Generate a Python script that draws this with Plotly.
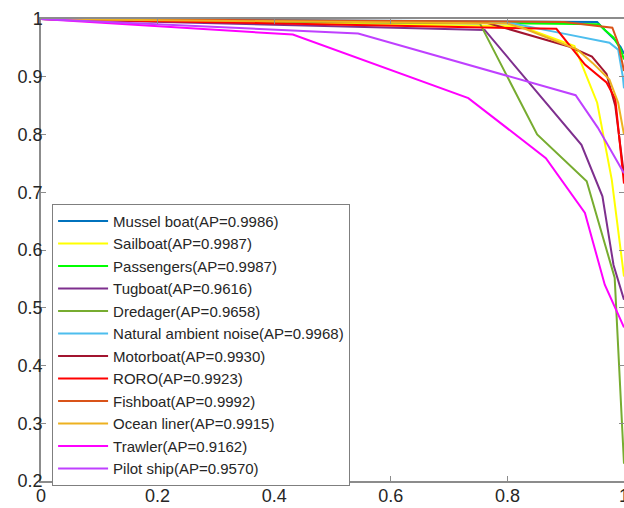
import plotly.graph_objects as go

names = ["Mussel boat(AP=0.9986)", "Sailboat(AP=0.9987)", "Passengers(AP=0.9987)",
         "Tugboat(AP=0.9616)", "Dredager(AP=0.9658)", "Natural ambient noise(AP=0.9968)",
         "Motorboat(AP=0.9930)", "RORO(AP=0.9923)", "Fishboat(AP=0.9992)",
         "Ocean liner(AP=0.9915)", "Trawler(AP=0.9162)", "Pilot ship(AP=0.9570)"]
colors = ["#0072BD", "#FFFF00", "#00FF00", "#7E2F8E", "#77AC30", "#4DBEEE",
          "#A2142F", "#FF0000", "#D95319", "#EDB120", "#FF00FF", "#BF40FF"]

mussel_r = [0, 0.954, 0.965, 0.985, 0.994, 1.0]
mussel_p = [1, 0.995, 0.983, 0.963, 0.952, 0.94]
sail_r = [0, 0.824, 0.915, 0.954, 0.979, 1.0]
sail_p = [1, 0.987, 0.953, 0.855, 0.722, 0.554]
pass_r = [0, 0.957, 0.968, 0.982, 0.994, 1.0]
pass_p = [1, 0.991, 0.980, 0.968, 0.948, 0.93]
tug_r = [0, 0.761, 0.927, 0.963, 0.982, 1.0]
tug_p = [1, 0.981, 0.782, 0.693, 0.574, 0.514]
dred_r = [0, 0.753, 0.851, 0.936, 0.984, 1.0]
dred_p = [1, 0.992, 0.800, 0.719, 0.552, 0.23]
nat_r = [0, 0.801, 0.890, 0.975, 0.990, 0.998, 1.0]
nat_p = [1, 0.994, 0.976, 0.959, 0.947, 0.900, 0.88]
motor_r = [0, 0.763, 0.907, 0.945, 0.970, 0.985, 1.0]
motor_p = [1, 0.994, 0.952, 0.935, 0.905, 0.85, 0.73]
roro_r = [0, 0.884, 0.933, 0.970, 0.985, 0.995, 1.0]
roro_p = [1, 0.983, 0.921, 0.890, 0.862, 0.760, 0.715]
fish_r = [0, 0.897, 0.980, 0.990, 1.0]
fish_p = [1, 0.995, 0.985, 0.958, 0.91]
ocean_r = [0, 0.80, 0.83, 0.92, 0.946, 0.975, 0.99, 1.0]
ocean_p = [1, 0.992, 0.983, 0.947, 0.924, 0.895, 0.855, 0.80]
trawl_r = [0, 0.432, 0.733, 0.866, 0.933, 0.967, 1.0]
trawl_p = [1, 0.973, 0.863, 0.759, 0.664, 0.540, 0.466]
pilot_r = [0, 0.544, 0.917, 0.955, 1.0]
pilot_p = [1, 0.975, 0.868, 0.812, 0.733]

recalls = [mussel_r, sail_r, pass_r, tug_r, dred_r, nat_r, motor_r, roro_r,
           fish_r, ocean_r, trawl_r, pilot_r]
precisions = [mussel_p, sail_p, pass_p, tug_p, dred_p, nat_p, motor_p, roro_p,
              fish_p, ocean_p, trawl_p, pilot_p]

x_ticks = [0, 0.2, 0.4, 0.6, 0.8, 1]
y_ticks = [0.2, 0.3, 0.4, 0.5, 0.6, 0.7, 0.8, 0.9, 1]

fig = go.Figure()
for n, c, r, p in zip(names, colors, recalls, precisions):
    fig.add_trace(go.Scatter(x=r, y=p, mode="lines", name=n,
                             line=dict(color=c, width=2)))

axis_common = dict(showline=True, linecolor="#8c8c8c", linewidth=1.5, mirror="ticks",
                   ticks="inside", ticklen=5, tickcolor="#8c8c8c", showgrid=False,
                   zeroline=False, automargin=False, ticklabeloverflow="allow",
                   tickfont=dict(family="Liberation Sans, Arial", size=18, color="#262626"))
fig.update_xaxes(range=[0, 1], tickvals=x_ticks, ticktext=[f"{v:g}" for v in x_ticks],
                 ticklabelstandoff=-2, **axis_common)
fig.update_yaxes(range=[0.2, 1], tickvals=y_ticks, ticktext=[f"{v:g}" for v in y_ticks],
                 ticklabelstandoff=-7, **axis_common)

fig.update_layout(
    width=624, height=508,
    margin=dict(l=41, r=0, t=19, b=27, autoexpand=False),
    paper_bgcolor="white", plot_bgcolor="white",
    font=dict(family="Liberation Sans, Arial", color="#262626"),
    legend=dict(x=0.019, y=0.6, xanchor="left", yanchor="top",
                bgcolor="white", bordercolor="#7f7f7f", borderwidth=1,
                font=dict(size=15, color="#262626"), itemwidth=50,
                tracegroupgap=0),
    showlegend=True,
)

fig.write_html(
    "out.html",
    config={"displayModeBar": False},
    post_script="document.body.style.margin='0';document.body.style.overflow='hidden';",
)
